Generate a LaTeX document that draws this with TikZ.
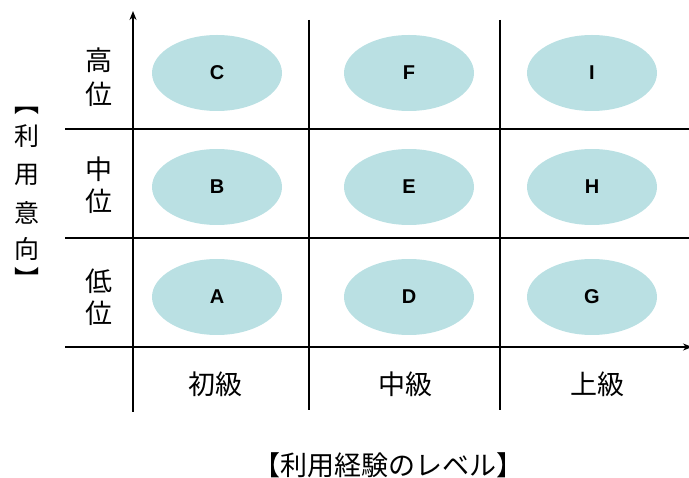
\documentclass[tikz,border=0pt]{standalone}
\usepackage{fontspec}
\setmainfont{Liberation Sans}
\newfontfamily\jp{Noto Sans CJK JP}
\usetikzlibrary{arrows.meta,shapes.geometric}
\definecolor{ell}{RGB}{186,224,227}
\tikzset{
  grid/.style={line width=1.5pt},
  axis/.style={line width=1.5pt,-{Stealth[length=9pt,width=7pt]}},
  cell/.style={ellipse,fill=ell,minimum width=130pt,minimum height=76pt,inner sep=0pt,font=\fontsize{20}{20}\selectfont\bfseries},
  jlab/.style={font=\jp\fontsize{27}{27}\selectfont,inner sep=0pt},
  vlab/.style={font=\jp\fontsize{25}{25}\selectfont,inner sep=0pt}
}
\begin{document}
\begin{tikzpicture}[x=1pt,y=-1pt]
\useasboundingbox (0,0) rectangle (689,478);
% grid
\coordinate (h1l) at (65,129); \coordinate (h1r) at (689,129);
\coordinate (h2l) at (65,238); \coordinate (h2r) at (689,238);
\coordinate (v1t) at (309,20); \coordinate (v1b) at (309,410);
\coordinate (v2t) at (500,20); \coordinate (v2b) at (500,410);
\draw[grid] (h1l) -- (h1r);
\draw[grid] (h2l) -- (h2r);
\draw[grid] (v1t) -- (v1b);
\draw[grid] (v2t) -- (v2b);
% axes
\coordinate (yb) at (133,412); \coordinate (yt) at (133,11);
\coordinate (xl) at (65,347); \coordinate (xr) at (692,347);
\draw[axis] (yb) -- (yt);
\draw[axis] (xl) -- (xr);
% cells
\node[cell] (C) at (217,73) {C};
\node[cell] (F) at (409,73) {F};
\node[cell] (I) at (592,73) {I};
\node[cell] (B) at (217,187) {B};
\node[cell] (E) at (409,187) {E};
\node[cell] (H) at (592,187) {H};
\node[cell] (A) at (217,297) {A};
\node[cell] (D) at (409,297) {D};
\node[cell] (G) at (592,297) {G};
% row labels
\node[jlab] (r3a) at (99,60) {高};
\node[jlab] (r3b) at (99,94) {位};
\node[jlab] (r2a) at (99,169) {中};
\node[jlab] (r2b) at (99,201) {位};
\node[jlab] (r1a) at (99,281) {低};
\node[jlab] (r1b) at (99,313) {位};
% column labels
\node[jlab] (c1) at (215,384) {初級};
\node[jlab] (c2) at (405,384) {中級};
\node[jlab] (c3) at (597,384) {上級};
% vertical label
\node[vlab] (v0) at (27,111) {︻};
\node[vlab] (v1) at (27,136) {利};
\node[vlab] (v2) at (27,175) {用};
\node[vlab] (v3) at (27,213) {意};
\node[vlab] (v4) at (27,249) {向};
\node[vlab] (v5) at (27,278) {︼};
% bottom label
\node[font=\jp\fontsize{27}{27}\selectfont,inner sep=0pt] (xlab) at (388,465) {【利用経験のレベル】};
\end{tikzpicture}
\end{document}
